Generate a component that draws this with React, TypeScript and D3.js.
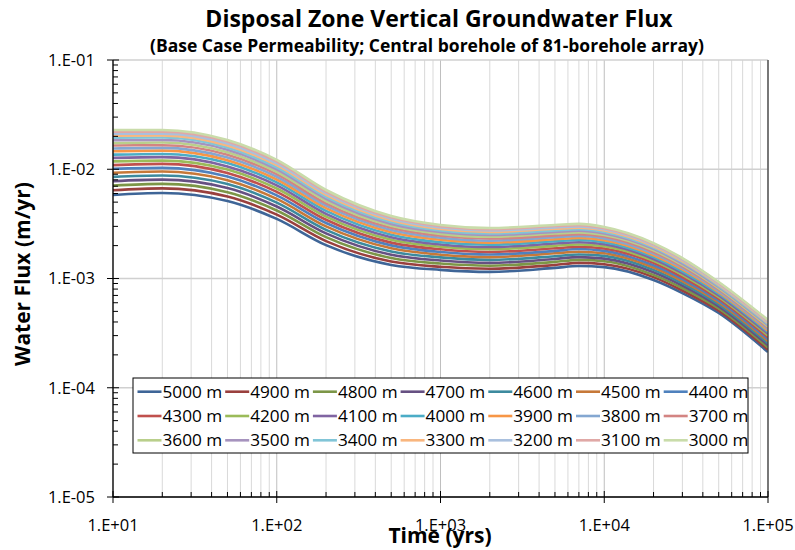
import React from 'react';
import * as d3 from 'd3';

// ---------- data ----------
const TIMES = [10, 20, 50, 100, 200, 500, 1000, 2000, 5000, 7000, 10000, 20000, 30000, 50000, 100000];

const SERIES_NAMES = [
  '5000 m', '4900 m', '4800 m', '4700 m', '4600 m', '4500 m', '4400 m',
  '4300 m', '4200 m', '4100 m', '4000 m', '3900 m', '3800 m', '3700 m',
  '3600 m', '3500 m', '3400 m', '3300 m', '3200 m', '3100 m', '3000 m',
];

const FLUX_5000 = [0.00582, 0.00607, 0.00512, 0.00351, 0.00202, 0.00133, 0.00120, 0.00115, 0.00125, 0.00130, 0.00127, 0.000968, 0.000736, 0.000483, 0.000212];
const FLUX_4900 = [0.00643, 0.00668, 0.00562, 0.00384, 0.00220, 0.00143, 0.00128, 0.00123, 0.00133, 0.00139, 0.00135, 0.00103, 0.000777, 0.000507, 0.000223];
const FLUX_4800 = [0.00708, 0.00734, 0.00615, 0.00419, 0.00239, 0.00154, 0.00137, 0.00131, 0.00142, 0.00148, 0.00144, 0.00108, 0.000818, 0.000531, 0.000234];
const FLUX_4700 = [0.00778, 0.00803, 0.00672, 0.00456, 0.00259, 0.00165, 0.00146, 0.00139, 0.00151, 0.00157, 0.00152, 0.00114, 0.000861, 0.000555, 0.000245];
const FLUX_4600 = [0.00851, 0.00876, 0.00731, 0.00495, 0.00279, 0.00177, 0.00156, 0.00148, 0.00160, 0.00166, 0.00161, 0.00120, 0.000903, 0.000579, 0.000256];
const FLUX_4500 = [0.00928, 0.00953, 0.00793, 0.00535, 0.00300, 0.00189, 0.00165, 0.00157, 0.00170, 0.00176, 0.00170, 0.00126, 0.000947, 0.000604, 0.000267];
const FLUX_4400 = [0.0101, 0.0103, 0.00857, 0.00577, 0.00322, 0.00201, 0.00175, 0.00166, 0.00179, 0.00186, 0.00179, 0.00132, 0.000990, 0.000628, 0.000278];
const FLUX_4300 = [0.0109, 0.0112, 0.00924, 0.00621, 0.00345, 0.00213, 0.00185, 0.00175, 0.00189, 0.00195, 0.00188, 0.00139, 0.00103, 0.000652, 0.000289];
const FLUX_4200 = [0.0118, 0.0120, 0.00993, 0.00666, 0.00368, 0.00226, 0.00195, 0.00185, 0.00199, 0.00205, 0.00197, 0.00145, 0.00108, 0.000677, 0.000301];
const FLUX_4100 = [0.0127, 0.0129, 0.0106, 0.00712, 0.00391, 0.00239, 0.00205, 0.00194, 0.00209, 0.00215, 0.00206, 0.00151, 0.00112, 0.000701, 0.000312];
const FLUX_4000 = [0.0136, 0.0138, 0.0114, 0.00758, 0.00416, 0.00252, 0.00215, 0.00204, 0.00219, 0.00225, 0.00215, 0.00157, 0.00116, 0.000725, 0.000323];
const FLUX_3900 = [0.0146, 0.0148, 0.0121, 0.00806, 0.00440, 0.00265, 0.00226, 0.00213, 0.00229, 0.00235, 0.00224, 0.00163, 0.00121, 0.000748, 0.000333];
const FLUX_3800 = [0.0155, 0.0157, 0.0128, 0.00854, 0.00464, 0.00278, 0.00236, 0.00222, 0.00239, 0.00245, 0.00233, 0.00169, 0.00125, 0.000771, 0.000344];
const FLUX_3700 = [0.0165, 0.0166, 0.0136, 0.00902, 0.00488, 0.00291, 0.00246, 0.00232, 0.00248, 0.00255, 0.00242, 0.00175, 0.00129, 0.000794, 0.000354];
const FLUX_3600 = [0.0174, 0.0176, 0.0143, 0.00949, 0.00512, 0.00304, 0.00256, 0.00241, 0.00258, 0.00264, 0.00250, 0.00181, 0.00133, 0.000816, 0.000364];
const FLUX_3500 = [0.0184, 0.0185, 0.0151, 0.00997, 0.00536, 0.00316, 0.00266, 0.00250, 0.00267, 0.00274, 0.00259, 0.00187, 0.00137, 0.000837, 0.000374];
const FLUX_3400 = [0.0194, 0.0195, 0.0158, 0.0104, 0.00560, 0.00329, 0.00275, 0.00258, 0.00276, 0.00283, 0.00267, 0.00192, 0.00141, 0.000857, 0.000384];
const FLUX_3300 = [0.0203, 0.0204, 0.0165, 0.0109, 0.00583, 0.00341, 0.00284, 0.00267, 0.00285, 0.00292, 0.00275, 0.00197, 0.00144, 0.000877, 0.000393];
const FLUX_3200 = [0.0212, 0.0212, 0.0172, 0.0113, 0.00604, 0.00352, 0.00293, 0.00275, 0.00293, 0.00300, 0.00282, 0.00202, 0.00148, 0.000895, 0.000401];
const FLUX_3100 = [0.0221, 0.0221, 0.0179, 0.0118, 0.00626, 0.00363, 0.00301, 0.00282, 0.00302, 0.00308, 0.00289, 0.00207, 0.00151, 0.000913, 0.000409];
const FLUX_3000 = [0.0229, 0.0229, 0.0185, 0.0122, 0.00646, 0.00373, 0.00309, 0.00290, 0.00309, 0.00316, 0.00296, 0.00211, 0.00154, 0.000929, 0.000417];

const SERIES_VALUES = [
  FLUX_5000, FLUX_4900, FLUX_4800, FLUX_4700, FLUX_4600, FLUX_4500, FLUX_4400,
  FLUX_4300, FLUX_4200, FLUX_4100, FLUX_4000, FLUX_3900, FLUX_3800, FLUX_3700,
  FLUX_3600, FLUX_3500, FLUX_3400, FLUX_3300, FLUX_3200, FLUX_3100, FLUX_3000,
];

const SERIES_COLORS = [
  '#3E6597', '#9A403E', '#7C9647', '#665082', '#3C8A9E', '#C67838',
  '#4F81BD', '#C0504D', '#9BBB59', '#8064A2', '#4BACC6', '#F79646',
  '#84A7D1', '#D38482', '#B9CF8B', '#A693BE', '#81C5D7', '#F9B67E',
  '#A9C0DE', '#E0A8A6', '#C9DCAA',
];

const X_MAJOR = [10, 100, 1000, 10000, 100000];
const X_TICK_LABELS = ['1.E+01', '1.E+02', '1.E+03', '1.E+04', '1.E+05'];
const Y_MAJOR = [1e-1, 1e-2, 1e-3, 1e-4, 1e-5];
const Y_TICK_LABELS = ['1.E-01', '1.E-02', '1.E-03', '1.E-04', '1.E-05'];

const TITLE = 'Disposal Zone Vertical Groundwater Flux';
const SUBTITLE = '(Base Case Permeability; Central borehole of 81-borehole array)';
const X_TITLE = 'Time (yrs)';
const Y_TITLE = 'Water Flux (m/yr)';

// ---------- layout ----------
const W = 795;
const H = 550;
const PL = 113, PR = 768, PT = 60, PB = 497;
const FONT = "'Open Sans', 'Liberation Sans', sans-serif";

export default function App() {
  const x = d3.scaleLog().domain([10, 1e5]).range([PL, PR]);
  const y = d3.scaleLog().domain([1e-5, 1e-1]).range([PB, PT]);

  const line = d3
    .line<[number, number]>()
    .x((d) => x(d[0]))
    .y((d) => y(d[1]))
    .curve(d3.curveMonotoneX);

  const xMinor: number[] = [];
  for (let e = 1; e < 5; e++) for (let k = 2; k <= 9; k++) xMinor.push(k * Math.pow(10, e));
  const yMinor: number[] = [];
  for (let e = -5; e < -1; e++) for (let k = 2; k <= 9; k++) yMinor.push(k * Math.pow(10, e));

  // legend geometry
  const LG = { x: 133, y: 378, w: 615, h: 75 };
  const colW = 87.7;
  const rowH = 24.3;

  return (
    <svg
      width={W}
      height={H}
      viewBox={`0 0 ${W} ${H}`}
      style={{ position: 'absolute', left: 0, top: 0, background: '#fff' }}
      fontFamily={FONT}
    >
      <rect x={0} y={0} width={W} height={H} fill="#fff" />

      {/* minor vertical gridlines */}
      {xMinor.map((t) => (
        <line key={'xm' + t} x1={x(t)} x2={x(t)} y1={PT} y2={PB} stroke="#D9D9D9" strokeWidth={1} />
      ))}
      {/* major vertical gridlines */}
      {X_MAJOR.map((t) => (
        <line key={'xg' + t} x1={x(t)} x2={x(t)} y1={PT} y2={PB} stroke="#BFBFBF" strokeWidth={1} />
      ))}
      {/* major horizontal gridlines */}
      {Y_MAJOR.map((v) => (
        <line key={'yg' + v} x1={PL} x2={PR} y1={y(v)} y2={y(v)} stroke="#D0D0D0" strokeWidth={1.3} />
      ))}

      {/* series */}
      <defs>
        <clipPath id="plotclip">
          <rect x={PL} y={PT} width={PR - PL} height={PB - PT} />
        </clipPath>
      </defs>
      <g clipPath="url(#plotclip)">
        {SERIES_VALUES.map((vals, i) => (
          <path
            key={SERIES_NAMES[i]}
            d={line(TIMES.map((t, j) => [t, vals[j]] as [number, number])) || ''}
            fill="none"
            stroke={SERIES_COLORS[i]}
            strokeWidth={2.6}
            strokeLinejoin="round"
          />
        ))}
      </g>

      {/* right border */}
      <line x1={PR} x2={PR} y1={PT} y2={PB} stroke="#404040" strokeWidth={1.3} />

      {/* axes */}
      <line x1={PL} x2={PL} y1={PT} y2={PB} stroke="#000" strokeWidth={1.3} />
      <line x1={PL} x2={PR} y1={PB} y2={PB} stroke="#000" strokeWidth={1.3} />

      {/* y ticks */}
      {Y_MAJOR.map((v) => (
        <line key={'yt' + v} x1={PL - 6} x2={PL + 6} y1={y(v)} y2={y(v)} stroke="#000" strokeWidth={1} />
      ))}
      {yMinor.map((v) => (
        <line key={'ytm' + v} x1={PL} x2={PL + 5} y1={y(v)} y2={y(v)} stroke="#000" strokeWidth={1} />
      ))}
      {Y_MAJOR.map((v, i) => (
        <text key={'yl' + v} x={95} y={y(v)} dy="0.36em" textAnchor="end" fontSize={16.5} fill="#000">
          {Y_TICK_LABELS[i]}
        </text>
      ))}

      {/* x ticks */}
      {X_MAJOR.map((t) => (
        <line key={'xt' + t} x1={x(t)} x2={x(t)} y1={PB - 6} y2={PB + 6} stroke="#000" strokeWidth={1} />
      ))}
      {xMinor.map((t) => (
        <line key={'xtm' + t} x1={x(t)} x2={x(t)} y1={PB - 5} y2={PB} stroke="#000" strokeWidth={1} />
      ))}
      {X_MAJOR.map((t, i) => (
        <text key={'xl' + t} x={x(t)} y={531} textAnchor="middle" fontSize={16.5} fill="#000">
          {X_TICK_LABELS[i]}
        </text>
      ))}

      {/* titles */}
      <text x={439} y={27} textAnchor="middle" fontSize={23} fontWeight="bold" fill="#000">
        {TITLE}
      </text>
      <text x={427} y={52} textAnchor="middle" fontSize={17.5} fontWeight="bold" fill="#000">
        {SUBTITLE}
      </text>
      <text x={440} y={543} textAnchor="middle" fontSize={21} fontWeight="bold" fill="#000">
        {X_TITLE}
      </text>
      <text
        transform={`translate(30, ${274}) rotate(-90)`}
        textAnchor="middle"
        fontSize={21}
        fontWeight="bold"
        fill="#000"
      >
        {Y_TITLE}
      </text>

      {/* legend */}
      <rect x={LG.x} y={LG.y} width={LG.w} height={LG.h} fill="#fff" stroke="#000" strokeWidth={1} />
      {SERIES_NAMES.map((name, i) => {
        const col = i % 7;
        const row = Math.floor(i / 7);
        const lx = 137.5 + col * colW;
        const ly = 391.7 + row * rowH;
        return (
          <g key={'lg' + name}>
            <line x1={lx} x2={lx + 24} y1={ly} y2={ly} stroke={SERIES_COLORS[i]} strokeWidth={2.6} />
            <text x={lx + 25} y={ly} dy="0.36em" fontSize={17.2} fill="#000">
              {name}
            </text>
          </g>
        );
      })}
    </svg>
  );
}
